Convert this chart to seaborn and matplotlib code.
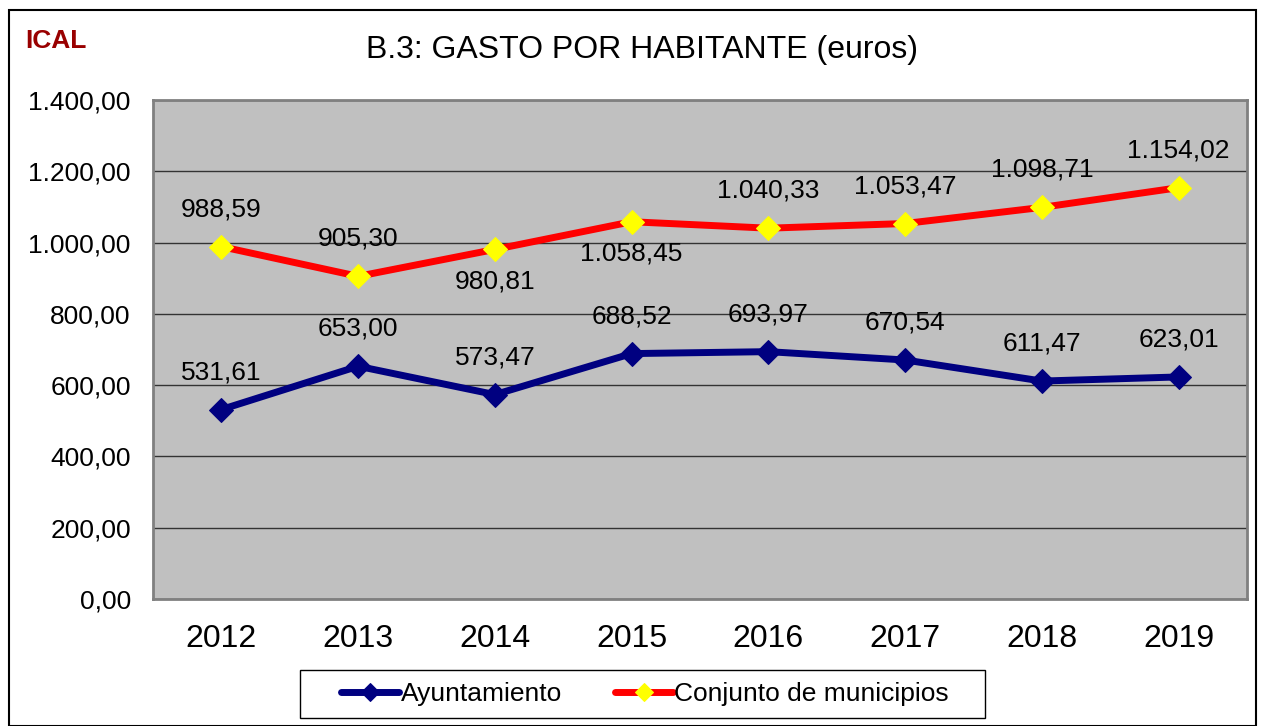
import matplotlib
matplotlib.use("Agg")
import matplotlib.pyplot as plt
import seaborn as sns
import pandas as pd
from matplotlib.patches import Rectangle
from matplotlib.ticker import FuncFormatter

years = ["2012", "2013", "2014", "2015", "2016", "2017", "2018", "2019"]
ayuntamiento = [531.61, 653.00, 573.47, 688.52, 693.97, 670.54, 611.47, 623.01]
conjunto = [988.59, 905.30, 980.81, 1058.45, 1040.33, 1053.47, 1098.71, 1154.02]
# label position for the red series: above (+1) or below (-1)
conjunto_side = [1, 1, -1, -1, 1, 1, 1, 1]


def es_fmt(v, dec=2):
    s = f"{v:,.{dec}f}"
    return s.replace(",", "X").replace(".", ",").replace("X", ".")


df = pd.DataFrame({
    "year": years * 2,
    "value": ayuntamiento + conjunto,
    "serie": ["Ayuntamiento"] * 8 + ["Conjunto de municipios"] * 8,
})

sns.set_style("white")
plt.rcParams["font.family"] = ["Liberation Sans", "DejaVu Sans"]
plt.rcParams["text.color"] = "black"
plt.rcParams["xtick.color"] = "black"
plt.rcParams["ytick.color"] = "black"

fig = plt.figure(figsize=(12.65, 7.26), dpi=100)
ax = fig.add_axes([153 / 1265, 1 - 599 / 726, 1094 / 1265, 499 / 726])
ax.set_facecolor("#C0C0C0")

sns.lineplot(data=df[df.serie == "Ayuntamiento"], x="year", y="value", ax=ax,
             color="#000080", lw=5, marker="D", markersize=12,
             markerfacecolor="#000080", markeredgecolor="#000080",
             label="Ayuntamiento", sort=False)
sns.lineplot(data=df[df.serie == "Conjunto de municipios"], x="year", y="value", ax=ax,
             color="#FF0000", lw=5, marker="D", markersize=12,
             markerfacecolor="#FFFF00", markeredgecolor="#FFFF00",
             label="Conjunto de municipios", sort=False)

for i, v in enumerate(ayuntamiento):
    ax.annotate(es_fmt(v), (i, v), xytext=(0, 27), textcoords="offset points",
                ha="center", va="center", fontsize=19)
for i, (v, s) in enumerate(zip(conjunto, conjunto_side)):
    ax.annotate(es_fmt(v), (i, v), xytext=(0, 27 if s > 0 else -23),
                textcoords="offset points", ha="center", va="center", fontsize=19)

ax.set_xlim(-0.5, 7.5)
ax.set_ylim(0, 1400)
ax.set_yticks(range(0, 1401, 200))
ax.yaxis.set_major_formatter(FuncFormatter(lambda v, p: es_fmt(v)))
ax.grid(axis="y", color="#333333", lw=1)
ax.set_axisbelow(True)
ax.set_xlabel("")
ax.set_ylabel("")
ax.tick_params(axis="y", labelsize=19, length=0, pad=16)
ax.tick_params(axis="x", labelsize=23, length=0, pad=18)
for sp in ax.spines.values():
    sp.set_color("#808080")
    sp.set_linewidth(2)

leg = ax.legend(loc="center", bbox_to_anchor=(645 / 1265, 1 - 694 / 726),
                bbox_transform=fig.transFigure, ncol=2, frameon=False,
                fontsize=19, handlelength=2.2, markerscale=0.75,
                columnspacing=2.0, borderpad=0.3, handletextpad=0.05)
# legend box (wider horizontal padding than vertical, as in the original)
fig.patches.append(Rectangle((300 / 1265, 1 - 718 / 726), 685 / 1265, 48 / 726,
                             transform=fig.transFigure, fill=False,
                             edgecolor="black", lw=1))

fig.text(642 / 1265, 1 - 50 / 726, "B.3: GASTO POR HABITANTE (euros)",
         ha="center", va="center", fontsize=23)
fig.text(25 / 1265, 1 - 41 / 726, "ICAL", ha="left", va="center",
         fontsize=19, fontweight="bold", color="#990000")

fig.patches.append(Rectangle((9 / 1265, 0), 1 - 18 / 1265, 1 - 10 / 726,
                             transform=fig.transFigure, fill=False,
                             edgecolor="black", lw=1.5))

fig.savefig("out.png", dpi=100)
